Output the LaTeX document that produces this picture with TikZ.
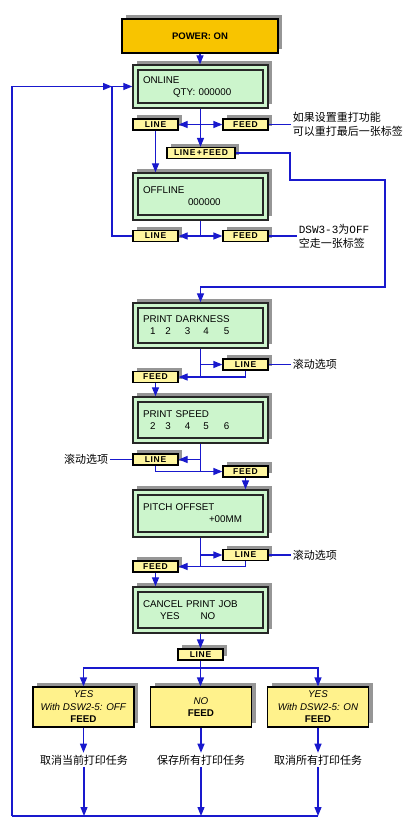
\documentclass[tikz,border=0pt]{standalone}
\usepackage{fontspec}
\setmainfont{Liberation Sans}
\newfontfamily\cjk{Noto Sans CJK SC}
\newfontfamily\mono{Liberation Mono}
\usepackage{tikz}
\usetikzlibrary{arrows.meta,calc,positioning}
\definecolor{powergold}{RGB}{248,196,0}
\definecolor{lcdgreen}{RGB}{204,245,204}
\definecolor{keyyellow}{RGB}{255,246,160}
\definecolor{resyellow}{RGB}{255,242,140}
\definecolor{flowblue}{RGB}{25,25,205}
\definecolor{shadowgray}{RGB}{150,150,150}
\newcommand{\stepvalues}[5]{\hspace*{7pt}#1\hspace{10pt}#2\hspace{14pt}#3\hspace{13pt}#4\hspace{15pt}#5}

\begin{document}
\begin{tikzpicture}[x=1pt,y=-1pt,
  castshadow/.style={preaction={fill=shadowgray,transform canvas={shift={(4pt,4pt)}}}},
  flow/.style={draw=flowblue,line width=1.2pt,-{Triangle[length=9pt,width=7pt]}},
  wire/.style={draw=flowblue,line width=1.2pt},
  power/.style={draw,line width=1.2pt,fill=powergold,castshadow,minimum width=156pt,minimum height=34pt,font=\bfseries\fontsize{9.5}{11}\selectfont},
  lcd/.style={draw=black!85,line width=1.3pt,fill=lcdgreen,castshadow,minimum width=135pt,text width=115pt,inner xsep=10pt,inner ysep=0pt,align=left,font=\fontsize{9.8}{12}\selectfont,
    path picture={\draw[line width=1.3pt] ([shift={(5pt,-5pt)}]path picture bounding box.north west) rectangle ([shift={(-5pt,5pt)}]path picture bounding box.south east);}},
  keybox/.style={draw,line width=1.2pt,fill=keyyellow,castshadow,minimum width=45pt,minimum height=11pt,inner sep=0pt,font=\bfseries\fontsize{8.5}{9}\selectfont\addfontfeature{LetterSpace=8}},
  result/.style={draw,line width=1.2pt,fill=resyellow,castshadow,minimum width=101pt,minimum height=40pt,align=center,font=\fontsize{9.8}{12.5}\selectfont},
  note/.style={font=\cjk\fontsize{11}{14}\selectfont,align=left,inner sep=2pt}]
\useasboundingbox (0,0) rectangle (404,831);

\node[power] (power) at (200,36) {POWER: ON};
\node[lcd,minimum height=43pt] (online) at (200.5,86.5) {ONLINE\\\hspace*{30pt}QTY: 000000};
\node[keybox] (lineA) at (155.5,124.5) {LINE};
\node[keybox] (feedA) at (245.5,124.5) {FEED};
\node[keybox,minimum width=68pt] (bothA) at (201,153) {LINE\,+\,FEED};
\node[note,right=22pt of feedA] (noteA) {如果设置重打功能\\可以重打最后一张标签};
\node[lcd,minimum height=47pt] (offline) at (200.5,196.5) {OFFLINE\\\hspace*{45pt}000000};
\node[keybox] (lineB) at (155.5,236) {LINE};
\node[keybox] (feedB) at (245.5,236) {FEED};
\node[note,right=28pt of feedB] (noteB) {{\mono DSW3-3}为{\mono OFF}\\空走一张标签};
\node[lcd,minimum height=45pt] (dark) at (200.5,325.5) {PRINT DARKNESS\\\stepvalues{1}{2}{3}{4}{5}};
\node[keybox] (lineC) at (245.5,364.5) {LINE};
\node[keybox] (feedC) at (155.5,377) {FEED};
\node[note,right=22pt of lineC] (noteC) {滚动选项};
\node[lcd,minimum height=46pt] (speed) at (200.5,420) {PRINT SPEED\\\stepvalues{2}{3}{4}{5}{6}};
\node[keybox] (lineD) at (155.5,459.5) {LINE};
\node[keybox] (feedD) at (245.5,471.5) {FEED};
\node[note,left=22pt of lineD] (noteD) {滚动选项};
\node[lcd,minimum height=47pt] (pitch) at (200.5,513.5) {PITCH OFFSET\\\hspace*{66pt}+00MM};
\node[keybox] (lineE) at (245.5,555) {LINE};
\node[keybox] (feedE) at (155.5,566.5) {FEED};
\node[note,right=22pt of lineE] (noteE) {滚动选项};
\node[lcd,minimum height=46pt] (cancel) at (200.5,610) {CANCEL PRINT JOB\\\hspace*{17pt}YES\hspace{21pt}NO};
\node[keybox] (lineF) at (200.5,654.5) {LINE};
\node[result] (yesoff) at (83.5,707) {\textit{YES}\\\textit{With DSW2-5: OFF}\\\textbf{FEED}};
\node[result] (nofeed) at (201,707) {\textit{NO}\\\textbf{FEED}};
\node[result] (yeson) at (318,707) {\textit{YES}\\\textit{With DSW2-5: ON}\\\textbf{FEED}};
\node[note] (endA) at (84,760) {取消当前打印任务};
\node[note] (endB) at (201,760) {保存所有打印任务};
\node[note] (endC) at (318,760) {取消所有打印任务};

\coordinate (loopL) at (112,86.5);
\coordinate (outer) at (12,816);
\coordinate (split) at (200.5,668);
\coordinate (bendA) at (290,180);
\coordinate (bendB) at (385,287);

\draw[flow] (power.south) -- (power.south |- online.north);
\draw[flow] (online.south) -- (online.south |- bothA.north);
\coordinate (hubA) at (online.south |- lineA.east);
\draw[flow] (hubA) -- (lineA.east);
\draw[flow] (hubA) -- (feedA.west);
\draw[flow] (lineA.south) -- (lineA.south |- offline.north);
\draw[wire] (feedA.east) -- (noteA.west);
\draw[flow] (bothA.east) -| (bendA) -| (bendB) -| (dark.north);

\draw[wire] (offline.south) -- (offline.south |- lineB.east) coordinate (hubB);
\draw[flow] (hubB) -- (lineB.east);
\draw[flow] (hubB) -- (feedB.west);
\draw[flow] (lineB.west) -| (loopL) -- (online.west);
\draw[flow] (outer) |- (loopL);
\draw[wire] (feedB.east) -- (noteB.west);

\draw[wire] (dark.south) -- (dark.south |- feedC.east);
\draw[flow] (dark.south |- lineC.west) -- (lineC.west);
\draw[flow] (lineC.south) |- (feedC.east);
\draw[wire] (lineC.east) -- (noteC.west);
\draw[flow] (feedC.south) -- (feedC.south |- speed.north);

\draw[wire] (speed.south) -- (speed.south |- feedD.west);
\draw[flow] (speed.south |- lineD.east) -- (lineD.east);
\draw[flow] (lineD.south) |- (feedD.west);
\draw[wire] (lineD.west) -- (noteD.east);
\draw[flow] (feedD.south) -- (feedD.south |- pitch.north);

\draw[wire] (pitch.south) -- (pitch.south |- feedE.east);
\draw[flow] (pitch.south |- lineE.west) -- (lineE.west);
\draw[flow] (lineE.south) |- (feedE.east);
\draw[wire] (lineE.east) -- (noteE.west);
\draw[flow] (feedE.south) -- (feedE.south |- cancel.north);

\draw[flow] (cancel.south) -- (lineF.north);
\draw[wire] (lineF.south) -- (split);
\draw[flow] (split) -| (yesoff.north);
\draw[flow] (split) -- (split |- nofeed.north);
\draw[flow] (split) -| (yeson.north);
\foreach \r/\e in {yesoff/endA,nofeed/endB,yeson/endC} {
  \draw[flow] (\r.south) -- (\r.south |- \e.north);
  \draw[flow] (\e.south) -- (\e.south |- outer);
}
\draw[wire] (outer) -- (endC.south |- outer);
\end{tikzpicture}
\end{document}
